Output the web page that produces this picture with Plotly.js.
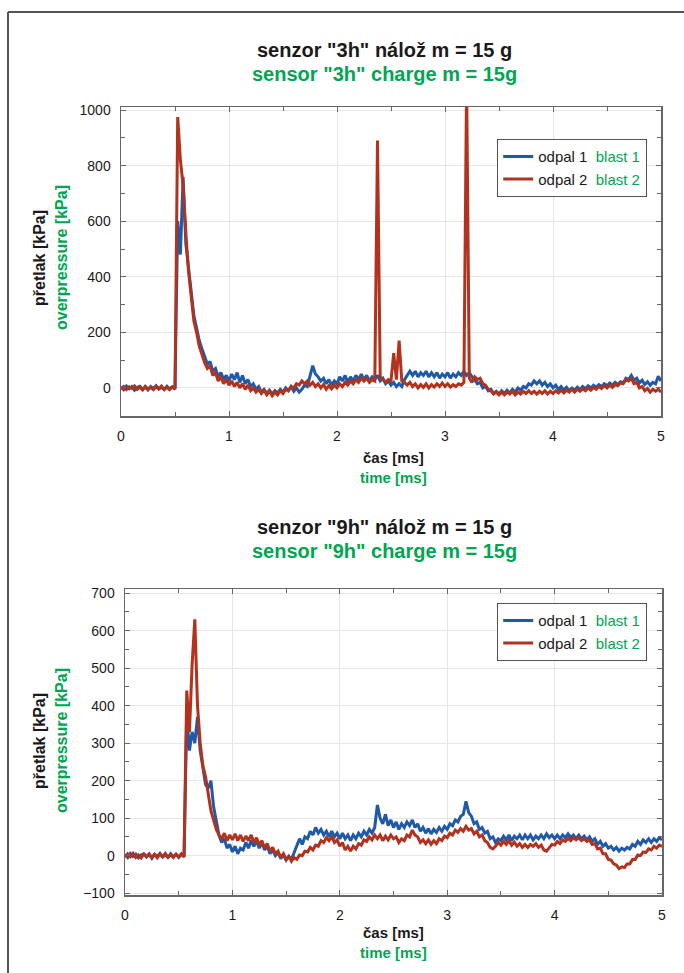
<!DOCTYPE html>
<html>
<head>
<meta charset="utf-8">
<script src="https://cdn.plot.ly/plotly-3.0.1.min.js"></script>
<style>html,body{margin:0;padding:0;background:#fff;}#chart{width:684px;height:973px;}</style>
</head>
<body>
<div id="chart"></div>
<script>
// ---- data (kPa), sampled every T_STEP ms from 0 to 5 ms ----
const T_STEP = 0.025;
const xTickVals = [0, 1, 2, 3, 4, 5];
const seriesNames = ["odpal 1", "odpal 2"];
const seriesNamesEn = ["blast 1", "blast 2"];

// sensor "3h"
const top_odpal1 = [
  4,-6,7,-3,5,-8,2,6,-5,3,-7,5,-2,8,-4,2,-6,6,-3,4,
  -5,600,480,760,520,430,350,260,215,170,140,115,85,95,60,70,40,55,30,45,
  25,50,30,55,20,45,15,30,5,15,-5,5,-15,-5,-20,-8,-22,-10,-18,-5,
  -15,0,-10,5,-12,0,-15,-5,10,5,45,80,50,40,25,35,15,30,10,25,
  15,40,25,45,20,40,25,45,30,50,30,45,25,40,30,45,25,35,15,25,
  10,20,5,15,5,30,45,60,45,60,40,55,45,60,40,55,40,55,35,50,
  40,55,35,50,40,55,45,60,45,55,40,30,15,20,0,5,-10,-5,-20,-12,
  -22,-10,-20,-8,-18,-5,-15,0,-8,5,0,15,10,25,15,25,10,20,5,15,
  0,10,-5,5,-8,2,-10,0,-8,3,-6,5,-3,8,0,10,2,12,5,15,
  8,18,10,20,12,22,18,35,30,45,28,35,18,28,12,22,10,20,15,42,
  25
];
const top_odpal2 = [
  -3,5,-6,4,-2,7,-5,3,-7,6,-4,2,-6,5,-3,7,-5,3,-6,4,
  -2,975,820,730,560,420,330,240,200,150,120,90,70,80,45,55,25,40,15,30,
  10,25,5,20,0,15,-5,10,-10,0,-15,-5,-20,-8,-25,-12,-28,-15,-25,-10,
  -20,-5,-10,5,0,15,10,25,15,25,10,20,5,15,0,12,-5,8,-3,10,
  0,15,5,20,10,25,15,30,20,35,25,35,20,30,25,890,40,30,20,30,
  25,125,30,170,25,20,10,20,5,15,0,12,2,15,0,12,3,15,5,18,
  5,15,3,12,5,15,10,20,1100,35,20,40,30,35,15,10,-5,-10,-22,-15,
  -25,-15,-25,-15,-22,-12,-25,-15,-22,-12,-20,-10,-20,-12,-22,-12,-20,-10,-22,-12,
  -20,-10,-18,-8,-18,-8,-15,-5,-15,-5,-12,-3,-10,0,-8,2,-5,5,-2,8,
  0,10,2,12,8,18,15,30,25,35,15,20,0,5,-10,-2,-15,-5,-12,-5,
  -15
];

// sensor "9h"
const bot_odpal1 = [
  3,-5,6,-2,4,-6,2,5,-4,3,-7,4,-2,6,-4,2,-5,5,-3,4,
  -5,3,-2,380,280,330,300,370,280,230,190,180,200,130,90,55,35,45,20,30,
  10,25,5,20,15,35,20,40,25,40,20,35,15,25,5,15,0,8,-8,2,
  -12,-2,-10,10,25,45,30,50,45,65,55,75,60,70,55,65,50,65,50,60,
  45,60,45,55,40,55,45,60,50,65,55,70,60,75,135,100,85,110,80,95,
  75,90,70,85,75,90,80,95,75,85,65,75,60,72,58,70,62,75,65,78,
  70,85,80,95,90,105,110,145,115,105,85,90,70,75,60,65,45,50,35,45,
  40,52,42,55,40,52,45,55,42,55,45,55,42,52,45,55,45,58,48,55,
  45,55,45,55,48,58,48,55,45,55,45,52,42,50,38,45,30,38,25,32,
  20,25,15,22,12,20,15,22,18,30,25,38,30,42,35,45,35,45,38,48,
  42
];
const bot_odpal2 = [
  -4,5,-3,6,-5,2,-6,4,-2,5,-5,3,-6,4,-3,6,-4,2,-5,4,
  -3,5,-4,440,330,510,630,400,300,240,210,170,120,95,70,55,45,60,40,55,
  42,58,40,55,38,52,40,55,35,48,28,40,20,32,12,22,5,12,-5,5,
  -10,-2,-15,-5,-10,2,0,12,10,22,15,28,25,40,35,48,40,50,35,42,
  25,35,15,25,12,25,18,32,28,42,38,50,42,55,45,55,40,52,42,55,
  45,50,35,45,40,55,50,68,55,50,35,42,32,42,30,40,32,45,40,52,
  48,60,55,68,62,72,65,78,68,72,58,65,50,55,40,35,22,18,25,35,
  28,38,30,40,28,36,25,32,22,30,22,30,25,32,22,28,15,12,22,30,
  28,38,32,42,38,46,40,48,42,48,40,45,38,42,30,32,18,20,5,5,
  -10,-12,-22,-25,-35,-30,-32,-22,-22,-10,-10,2,0,10,8,18,15,25,20,28,
  25
];

// sampling grid
const t = top_odpal1.map((_, i) => +(i * T_STEP).toFixed(3));

const BLUE = "#1f5aa8";
const RED = "#b3321d";
const GREEN = "#00a651";
const TXT = "#1a1a1a";
const NARROW = "Liberation Sans Narrow, Arial Narrow, Liberation Sans, sans-serif";
const SANS = "Liberation Sans, Arial, sans-serif";

function nm(i) {
  return seriesNames[i] + '  <span style="color:' + GREEN + '">' + seriesNamesEn[i] + '</span>';
}

const LW = 3;
const traces = [
  {x: t, y: top_odpal1, xaxis: "x", yaxis: "y", name: nm(0), legend: "legend",
   mode: "lines", line: {color: BLUE, width: LW}},
  {x: t, y: top_odpal2, xaxis: "x", yaxis: "y", name: nm(1), legend: "legend",
   mode: "lines", line: {color: RED, width: LW}},
  {x: t, y: bot_odpal1, xaxis: "x2", yaxis: "y2", name: nm(0), legend: "legend2",
   mode: "lines", line: {color: BLUE, width: LW}},
  {x: t, y: bot_odpal2, xaxis: "x2", yaxis: "y2", name: nm(1), legend: "legend2",
   mode: "lines", line: {color: RED, width: LW}}
];

const W = 684, H = 973;
const px = v => v / W;
const py = v => 1 - v / H;

function xax(domain) {
  return {
    domain: domain, range: [0, 5], tickvals: xTickVals, ticks: "inside", ticklen: 5,
    tickcolor: "#666", showline: true, linecolor: "#666", linewidth: 1.5, mirror: "ticks",
    showgrid: true, gridcolor: "#e6e6e6", zeroline: false,
    tickfont: {family: SANS, size: 14, color: TXT}, ticklabelstandoff: 7,
    minor: {dtick: 0.5, ticks: "inside", ticklen: 4, tickcolor: "#666", showgrid: false}
  };
}
function yax(domain, range, dtick, minorDtick, anchor) {
  return {
    domain: domain, range: range, dtick: dtick, tick0: 0, ticks: "inside", ticklen: 5,
    tickcolor: "#666", showline: true, linecolor: "#666", linewidth: 1.5, mirror: "ticks",
    showgrid: true, gridcolor: "#e6e6e6", zeroline: false, anchor: anchor,
    tickfont: {family: SANS, size: 14, color: TXT}, ticklabelstandoff: 6,
    minor: {dtick: minorDtick, ticks: "inside", ticklen: 4, tickcolor: "#666", showgrid: false}
  };
}

function ann(text, x, y, size, color, angle) {
  return {text: text, x: px(x), y: py(y), xref: "paper", yref: "paper",
    xanchor: "center", yanchor: "middle", showarrow: false, textangle: angle || 0,
    font: {family: NARROW, size: size, color: color, weight: "bold"}};
}

const layout = {
  width: W, height: H, margin: {l: 0, r: 0, t: 0, b: 0},
  paper_bgcolor: "#ffffff", plot_bgcolor: "#ffffff", showlegend: true,
  xaxis: xax([px(121), px(661)]),
  yaxis: yax([py(416), py(107)], [-101, 1011], 200, 100, "x"),
  xaxis2: Object.assign(xax([px(125), px(662)]), {anchor: "y2"}),
  yaxis2: yax([py(895), py(589)], [-105, 711], 100, 50, "x2"),
  legend: {x: px(497), y: py(139), xanchor: "left", yanchor: "top",
    bgcolor: "#ffffff", bordercolor: "#555", borderwidth: 1.2,
    font: {family: SANS, size: 15, color: TXT}, tracegroupgap: 0},
  legend2: {x: px(497), y: py(603), xanchor: "left", yanchor: "top",
    bgcolor: "#ffffff", bordercolor: "#555", borderwidth: 1.2,
    font: {family: SANS, size: 15, color: TXT}, tracegroupgap: 0},
  annotations: [
    ann('senzor "3h" nálož m = 15 g', 384, 50, 20, TXT),
    ann('sensor "3h" charge m = 15g', 384, 74, 20, GREEN),
    ann('čas [ms]', 393, 457, 15, TXT),
    ann('time [ms]', 393, 477, 15, GREEN),
    ann('přetlak [kPa]', 39, 258, 16, TXT, -90),
    ann('overpressure [kPa]', 61, 258, 16, GREEN, -90),
    ann('senzor "9h" nálož m = 15 g', 384, 527, 20, TXT),
    ann('sensor "9h" charge m = 15g', 384, 551, 20, GREEN),
    ann('čas [ms]', 393, 932, 15, TXT),
    ann('time [ms]', 393, 952, 15, GREEN),
    ann('přetlak [kPa]', 39, 741, 16, TXT, -90),
    ann('overpressure [kPa]', 61, 741, 16, GREEN, -90)
  ],
  shapes: [
    {type: "line", xref: "paper", yref: "paper", x0: px(8), x1: px(8), y0: py(12), y1: 0,
     line: {color: "#555", width: 2}},
    {type: "line", xref: "paper", yref: "paper", x0: px(8), x1: 1, y0: py(12), y1: py(12),
     line: {color: "#555", width: 2}}
  ]
};

Plotly.newPlot("chart", traces, layout, {displayModeBar: false, staticPlot: true});
</script>
</body>
</html>
